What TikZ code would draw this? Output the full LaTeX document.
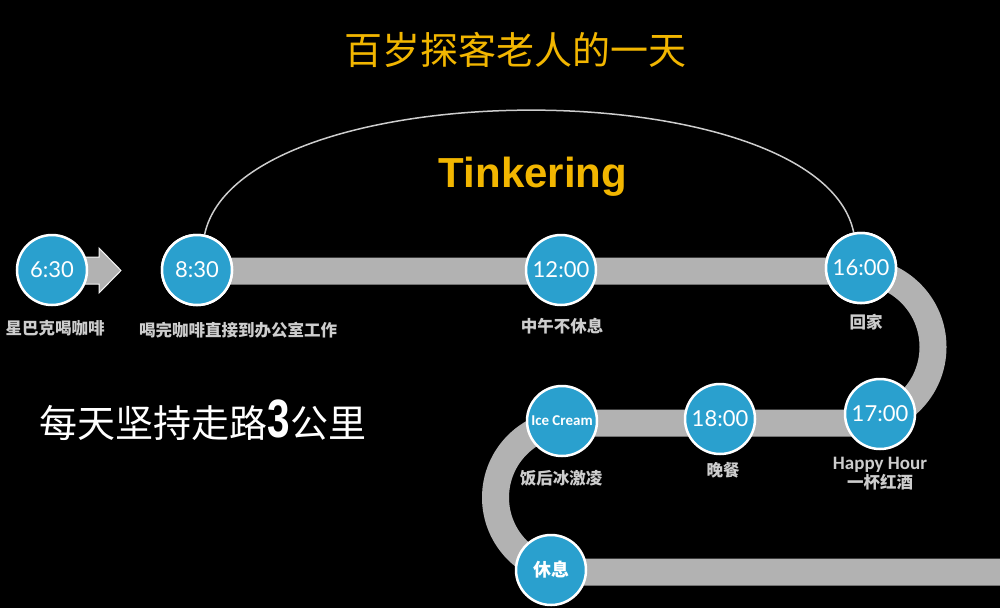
\documentclass[tikz,border=0pt]{standalone}
\usepackage{fontspec}
\usepackage{graphicx}
\setmainfont{Lato}
\newfontfamily\cjk{Noto Sans CJK SC}
\newfontfamily\heavy{Liberation Sans}
\newfontfamily\calib{Carlito}
\usetikzlibrary{positioning}

\definecolor{titleyellow}{RGB}{242,182,0}
\definecolor{stopblue}{RGB}{42,160,206}
\definecolor{roadgray}{RGB}{178,178,178}
\definecolor{labelgray}{RGB}{205,205,205}

\tikzset{
  timestop/.style={circle, draw=white, line width=2.5pt, fill=stopblue,
    minimum size=70pt, inner sep=0pt, text=white, font=\fontsize{22}{22}\selectfont},
  caption/.style={text=labelgray, font=\cjk\bfseries\fontsize{16.5}{19}\selectfont, align=center},
  road/.style={draw=roadgray, line width=27pt},
  arcline/.style={draw=labelgray, line width=1.5pt},
}

\begin{document}
\begin{tikzpicture}[x=1pt, y=-1pt]

\fill[black] (0,0) rectangle (1000,608);
\useasboundingbox (0,0) rectangle (1000,608);

% the road
\draw[road] (197,271) -- (857,271) arc (-90:90:76) -- (570,423) arc (-90:-270:74.5) -- (1000,572);
\filldraw[fill=roadgray, draw=white!85!roadgray, line width=1pt]
  (80,257) -- (99,257) -- (99,248) -- (121,270.5) -- (99,293) -- (99,284) -- (80,284) -- cycle;

\node[text=titleyellow, font=\cjk\fontsize{38}{42}\selectfont] (title) at (515,50) {百岁探客老人的一天};
\node[text=titleyellow, font=\heavy\bfseries\fontsize{42}{42}\selectfont] (tinkering) at (533,177) {Tinkering};

\node[timestop] (t_630) at (52,270) {6:30};
\node[timestop] (t_830) at (197,270) {8:30};
\node[timestop] (t_1200) at (561,270) {12:00};
\node[timestop] (t_1600) at (861,268) {16:00};
\node[timestop] (t_1700) at (880,414) {17:00};
\node[timestop] (t_1800) at (720,419) {18:00};
\node[timestop, font=\calib\bfseries\fontsize{15}{15}\selectfont] (t_ice) at (562,421) {Ice Cream};
\node[timestop, font=\cjk\bfseries\fontsize{18}{18}\selectfont] (t_rest) at (551,570) {休息};

% arc over the working day
\draw[arcline] (t_830) .. controls (240,69) and (820,69) .. (t_1600);
\node[timestop] at (197,270) {8:30};
\node[timestop] at (861,268) {16:00};

\node[caption] (c_630) at (55,328) {星巴克喝咖啡};
\node[caption] (c_830) at (238,330) {喝完咖啡直接到办公室工作};
\node[caption] (c_1200) at (562,326) {中午不休息};
\node[caption] (c_1600) at (866,322) {回家};
\node[caption, font=\calib\bfseries\fontsize{19}{21}\selectfont] (c_1700) at (880,465) {Happy Hour};
\node[caption, below=-5pt of c_1700] (c_1700b) {一杯红酒};
\node[caption] (c_1800) at (723,470) {晚餐};
\node[caption] (c_ice) at (561,478) {饭后冰激凌};

\node[text=white, font=\cjk\fontsize{38}{42}\selectfont] (walk) at (203,420)
  {每天坚持走路{\heavy\bfseries\fontsize{54}{54}\selectfont\scalebox{0.75}[1]{3}}公里};

\end{tikzpicture}
\end{document}
